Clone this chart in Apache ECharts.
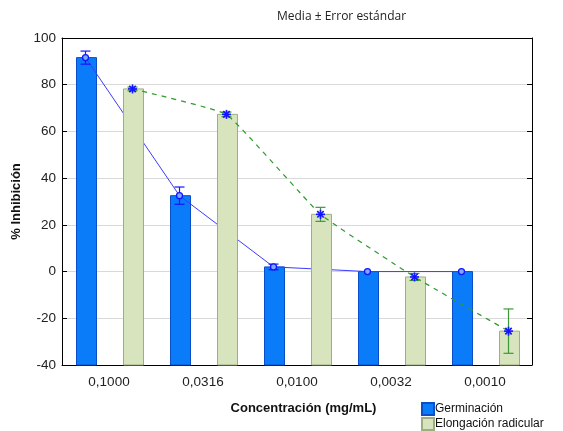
<!DOCTYPE html>
<html>
<head>
<meta charset="utf-8">
<script src="https://cdn.jsdelivr.net/npm/echarts@6/dist/echarts.min.js"></script>
<style>
  html, body { margin: 0; padding: 0; background: #fff; }
  #chart { width: 563px; height: 431px; }
</style>
</head>
<body>
<div id="chart"></div>
<script>
// Concentrations (mg/mL) on the category axis
const categories = ['0,1000', '0,0316', '0,0100', '0,0032', '0,0010'];

// Germination inhibition: mean and standard error (%)
const germinacion   = [91.6, 32.5, 2.0, 0.0, 0.0];
const germinacionSE = [2.8, 3.7, 1.2, 0.0, 0.0];

// Root elongation inhibition: mean and standard error (%)
const elongacion   = [78.2, 67.3, 24.5, -2.3, -25.5];
const elongacionSE = [0.8, 1.0, 3.0, 1.5, 9.5];

// Value axis range
const Y_MIN = -40, Y_MAX = 100, Y_STEP = 20;

// Bar geometry
const BAR_WIDTH = 20;
const BAR_SHIFT = 0.25;   // distance of each bar from the band centre, as a fraction of the band
const CAP = 5;            // half-width of the error bar caps

const BLUE_FILL = '#0a7cfa', BLUE_EDGE = '#0b4fc8';
const GREEN_FILL = '#d8e4bd', GREEN_EDGE = '#9fae80';
const MARK_BLUE = '#1414ff';
const ERR_GREEN = '#3a9a3a';
const FONT = '"Liberation Sans", Arial, sans-serif';

function toPairs(values) { return values.map((v, i) => [i, v]); }

function shiftOf(api, side) { return side * BAR_SHIFT * api.size([1, 0])[0]; }

function pointOf(api, i, v, dx) {
  const p = api.coord([i, v]);
  return [p[0] + dx, p[1]];
}

// Bars rise from the bottom of the value axis up to the mean
function barRenderer(side, fill, stroke) {
  return function (params, api) {
    const i = api.value(0);
    const dx = shiftOf(api, side);
    const top = pointOf(api, i, api.value(1), dx);
    const base = pointOf(api, i, Y_MIN, dx);
    return {
      type: 'rect',
      shape: { x: Math.round(top[0] - BAR_WIDTH / 2) + 0.5, y: top[1], width: BAR_WIDTH, height: base[1] - top[1] },
      style: { fill: fill, stroke: stroke, lineWidth: 1 }
    };
  };
}

function errorBar(api, i, v, se, dx, color) {
  if (!se) return [];
  const hi = pointOf(api, i, v + se, dx);
  const lo = pointOf(api, i, v - se, dx);
  const st = { stroke: color, lineWidth: 1.2 };
  return [
    { type: 'line', shape: { x1: hi[0], y1: hi[1], x2: lo[0], y2: lo[1] }, style: st },
    { type: 'line', shape: { x1: hi[0] - CAP, y1: hi[1], x2: hi[0] + CAP, y2: hi[1] }, style: st },
    { type: 'line', shape: { x1: lo[0] - CAP, y1: lo[1], x2: lo[0] + CAP, y2: lo[1] }, style: st }
  ];
}

function asterisk(p, color) {
  const r = 4.5, d = 3.2;
  const st = { stroke: color, lineWidth: 1.6 };
  return [
    { type: 'line', shape: { x1: p[0] - r, y1: p[1], x2: p[0] + r, y2: p[1] }, style: st },
    { type: 'line', shape: { x1: p[0], y1: p[1] - r, x2: p[0], y2: p[1] + r }, style: st },
    { type: 'line', shape: { x1: p[0] - d, y1: p[1] - d, x2: p[0] + d, y2: p[1] + d }, style: st },
    { type: 'line', shape: { x1: p[0] - d, y1: p[1] + d, x2: p[0] + d, y2: p[1] - d }, style: st }
  ];
}

// Germination: straight connecting line, error bars and circle markers
function germinacionLine(params, api) {
  const i = api.value(0);
  const dx = shiftOf(api, -1);
  const p = pointOf(api, i, api.value(1), dx);
  const children = [];
  if (i + 1 < germinacion.length) {
    const q = pointOf(api, i + 1, germinacion[i + 1], dx);
    children.push({ type: 'line', shape: { x1: p[0], y1: p[1], x2: q[0], y2: q[1] },
                    style: { stroke: '#3b3bff', lineWidth: 1 } });
  }
  children.push.apply(children, errorBar(api, i, api.value(1), germinacionSE[i], dx, MARK_BLUE));
  children.push({ type: 'circle', shape: { cx: p[0], cy: p[1], r: 3 },
                  style: { fill: '#7fa8ff', stroke: MARK_BLUE, lineWidth: 1.3 } });
  return { type: 'group', children: children };
}

// Root elongation: lightly smoothed dashed trend, error bars and asterisk markers
function elongacionLine(params, api) {
  const i = api.value(0);
  const dx = shiftOf(api, 1);
  const p = pointOf(api, i, api.value(1), dx);
  const children = [];
  if (i === 0) {
    const pts = elongacion.map((v, k) => pointOf(api, k, v, dx));
    children.push({ type: 'polyline', shape: { points: pts, smooth: 0.1 },
                    style: { stroke: '#2f9a2f', lineWidth: 1.2, lineDash: [5, 5], fill: null } });
  }
  children.push.apply(children, errorBar(api, i, api.value(1), elongacionSE[i], dx, ERR_GREEN));
  children.push.apply(children, asterisk(p, MARK_BLUE));
  return { type: 'group', children: children };
}

const legendText = { fontFamily: FONT, fontSize: 12, color: '#111', padding: [0, 0, 0, -4] };
function legendEntry(name, top) {
  return {
    data: [name], left: 421, top: top, padding: 0,
    itemWidth: 12, itemHeight: 12, icon: 'rect',
    textStyle: legendText
  };
}

const option = {
  animation: false,
  backgroundColor: '#fff',
  title: {
    text: 'Media ± Error estándar',
    left: 277, top: 11, padding: 0,
    textStyle: { fontFamily: '"Open Sans", "DejaVu Sans", sans-serif', fontSize: 12, fontWeight: 'normal', color: '#222' }
  },
  legend: [
    legendEntry('Germinación', 402),
    legendEntry('Elongación radicular', 417)
  ],
  grid: { left: 62, right: 31, top: 38, bottom: 66, containLabel: false },
  xAxis: [
    {
      type: 'category', data: categories, position: 'bottom',
      axisLine: { onZero: false, lineStyle: { color: '#000', width: 1 } },
      axisTick: { inside: true, alignWithLabel: true, length: 5, lineStyle: { color: '#000' } },
      axisLabel: { fontFamily: FONT, fontSize: 13.5, color: '#222', margin: 10 },
      name: 'Concentración (mg/mL)', nameLocation: 'middle', nameGap: 37,
      nameTextStyle: { fontFamily: FONT, fontSize: 13, fontWeight: 'bold', color: '#111', padding: [0, 0, 0, 13] }
    },
    {
      type: 'category', data: categories, position: 'top',
      axisLine: { onZero: false, lineStyle: { color: '#000', width: 1 } },
      axisTick: { inside: true, alignWithLabel: true, length: 5, lineStyle: { color: '#000' } },
      axisLabel: { show: false }
    }
  ],
  yAxis: [
    {
      type: 'value', min: Y_MIN, max: Y_MAX, interval: Y_STEP, position: 'left',
      axisLine: { show: true, onZero: false, lineStyle: { color: '#000', width: 1 } },
      axisTick: { show: true, inside: true, length: 5, lineStyle: { color: '#000' } },
      axisLabel: { fontFamily: FONT, fontSize: 13.5, color: '#222', margin: 6 },
      splitLine: { show: true, lineStyle: { color: '#d9d9d9', width: 1 } },
      name: '% Inhibición', nameLocation: 'middle', nameGap: 38, nameRotate: 90,
      nameTextStyle: { fontFamily: FONT, fontSize: 13, fontWeight: 'bold', color: '#111' }
    },
    {
      type: 'value', min: Y_MIN, max: Y_MAX, interval: Y_STEP, position: 'right',
      axisLine: { show: true, onZero: false, lineStyle: { color: '#000', width: 1 } },
      axisTick: { show: true, inside: true, length: 5, lineStyle: { color: '#000' } },
      axisLabel: { show: false },
      splitLine: { show: false }
    }
  ],
  series: [
    {
      name: 'Germinación', type: 'custom', z: 2,
      itemStyle: { color: BLUE_FILL, borderColor: BLUE_EDGE, borderWidth: 1 },
      renderItem: barRenderer(-1, BLUE_FILL, BLUE_EDGE),
      data: toPairs(germinacion)
    },
    {
      name: 'germinacion-trend', type: 'custom', z: 3,
      renderItem: germinacionLine,
      data: toPairs(germinacion)
    },
    {
      name: 'Elongación radicular', type: 'custom', z: 4,
      itemStyle: { color: GREEN_FILL, borderColor: GREEN_EDGE, borderWidth: 1 },
      renderItem: barRenderer(1, GREEN_FILL, GREEN_EDGE),
      data: toPairs(elongacion)
    },
    {
      name: 'elongacion-trend', type: 'custom', z: 5,
      renderItem: elongacionLine,
      data: toPairs(elongacion)
    }
  ]
};

const chart = echarts.init(document.getElementById('chart'), null, { renderer: 'canvas' });
chart.setOption(option);
</script>
</body>
</html>
